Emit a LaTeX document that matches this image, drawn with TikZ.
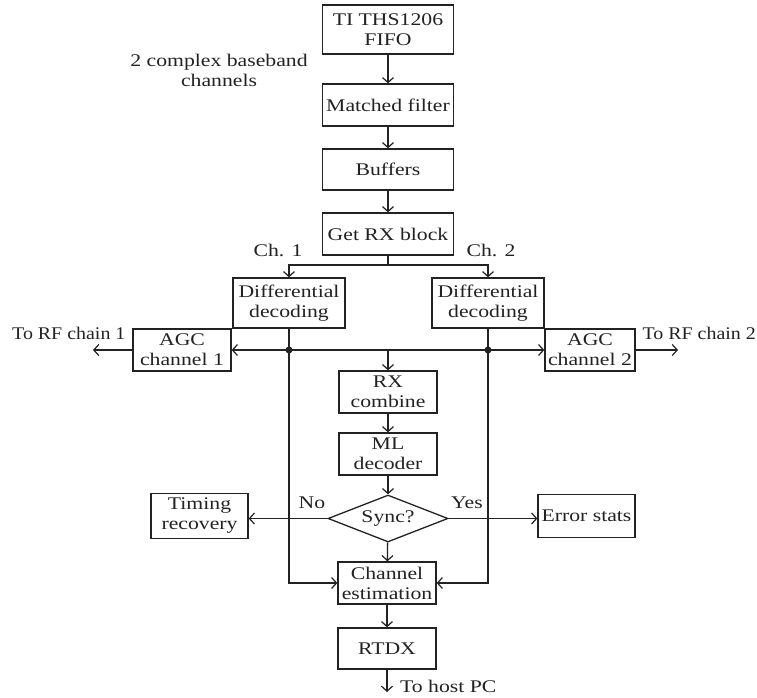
\documentclass[tikz,border=0pt]{standalone}
\usepackage{fontspec}
\setmainfont[FakeStretch=1.22]{Liberation Serif}
\newfontfamily\narrowserif[FakeStretch=1.12]{Liberation Serif}
\usetikzlibrary{arrows.meta,shapes.geometric}
\definecolor{ink}{HTML}{222222}
\begin{document}
\begin{tikzpicture}[x=1pt,y=-1pt,
  every node/.style={font=\fontsize{17.8}{20}\selectfont, text=ink},
  blk/.style={draw=ink, line width=1.3pt, inner sep=0pt, align=center},
  lbl/.style={inner sep=0pt, anchor=base},
  arr/.style={-{Straight Barb[length=5pt,width=11pt,line width=1.2pt]}},
  ln/.style={draw=ink, line width=1.3pt}]
\useasboundingbox (0,0) rectangle (757,698);
% blocks
\node[blk, minimum width=131, minimum height=49] (fifo) at (388,29.5) {TI THS1206\\FIFO};
\node[blk, minimum width=131, minimum height=42] (mf) at (388,105) {Matched filter};
\node[blk, minimum width=131, minimum height=41] (buf) at (388,169.5) {Buffers};
\node[blk, minimum width=131, minimum height=42] (getrx) at (388,234) {Get RX block};
\node[blk, minimum width=112, minimum height=50] (dd1) at (289,303) {Differential\\decoding};
\node[blk, minimum width=112, minimum height=50] (dd2) at (488,303) {Differential\\decoding};
\node[blk, minimum width=98, minimum height=42] (agc1) at (182,350) {AGC\\channel 1};
\node[blk, minimum width=90, minimum height=42] (agc2) at (590,350) {AGC\\channel 2};
\node[blk, minimum width=98, minimum height=42] (rxc) at (388,392) {RX\\combine};
\node[blk, minimum width=98, minimum height=42] (ml) at (388,454) {ML\\decoder};
\node[blk, diamond, minimum width=120, minimum height=47, aspect=2.55] (sync) at (388,518.5) {Sync?};
\node[blk, minimum width=97, minimum height=45] (timing) at (199.5,516) {Timing\\recovery};
\node[blk, minimum width=97, minimum height=43] (err) at (586.5,516) {Error stats};
\node[blk, minimum width=98, minimum height=42] (chest) at (387,583) {Channel\\estimation};
\node[blk, minimum width=98, minimum height=41] (rtdx) at (387,648.5) {RTDX};
% labels
\node[inner sep=0pt, align=center] (cbb) at (219,70) {2 complex baseband\\channels};
\node[lbl] (ch1) at (278,256) {Ch. 1};
\node[lbl] (ch2) at (491,256) {Ch. 2};
\node[lbl, anchor=base west, font=\narrowserif\fontsize{17.8}{20}\selectfont] (rf1l) at (12,339) {To RF chain 1};
\node[lbl, anchor=base east, font=\narrowserif\fontsize{17.8}{20}\selectfont] (rf2l) at (756,339) {To RF chain 2};
\node[lbl] (nol) at (312,508) {No};
\node[lbl] (yesl) at (467,508) {Yes};
\node[lbl, anchor=base west] (hostl) at (400,692) {To host PC};
% coordinates
\coordinate (br) at (388,265);
\coordinate (d1) at (289,350);
\coordinate (d2) at (488,350);
\coordinate (rf1) at (93,350);
\coordinate (rf2) at (678,350);
\coordinate (host) at (387,692);
% connectors
\draw[ln, arr] (fifo) -- (mf);
\draw[ln, arr] (mf) -- (buf);
\draw[ln, arr] (buf) -- (getrx);
\draw[ln] (getrx.south) -- (br);
\draw[ln, arr] (br) -| (dd1.north);
\draw[ln, arr] (br) -| (dd2.north);
\draw[ln] (d1) -- (d2);
\draw[ln, arr] (d1) -- (agc1.east);
\draw[ln, arr] (d2) -- (agc2.west);
\draw[ln, arr] (agc1.west) -- (rf1);
\draw[ln, arr] (agc2.east) -- (rf2);
\draw[ln, arr] (rxc.north |- d1) -- (rxc.north);
\draw[ln, arr] (rxc) -- (ml);
\draw[ln, arr] (ml) -- (sync);
\draw[ln, arr] (sync.west) -- (sync.west -| timing.east);
\draw[ln, arr] (sync.east) -- (sync.east -| err.west);
\draw[ln, arr] (sync) -- (chest);
\draw[ln, arr] (dd1.south) |- (chest.west);
\draw[ln, arr] (dd2.south) |- (chest.east);
\draw[ln, arr] (chest) -- (rtdx);
\draw[ln, arr] (rtdx) -- (host);
\fill[ink] (d1) circle (3.5);
\fill[ink] (d2) circle (3.5);
\end{tikzpicture}
\end{document}
